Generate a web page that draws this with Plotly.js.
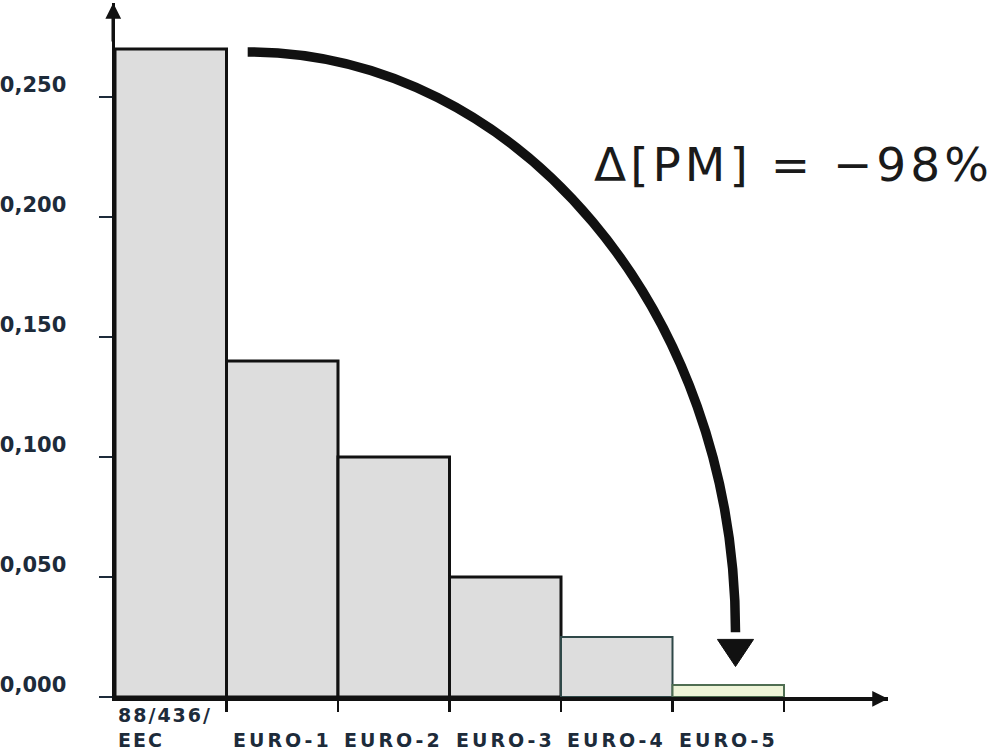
<!DOCTYPE html>
<html>
<head>
<meta charset="utf-8">
<script src="https://cdn.plot.ly/plotly-3.0.1.min.js"></script>
<style>
  html, body { margin: 0; padding: 0; background: #ffffff; }
  #chart { width: 999px; height: 753px; }
  .annotation[data-index="0"] text.annotation-text { letter-spacing: 2px; }
  .annotation[data-index="1"] text.annotation-text,
  .annotation[data-index="2"] text.annotation-text,
  .annotation[data-index="3"] text.annotation-text,
  .annotation[data-index="4"] text.annotation-text,
  .annotation[data-index="5"] text.annotation-text { letter-spacing: 3px; }
  .annotation[data-index="6"] text.annotation-text { letter-spacing: 4px; }
</style>
</head>
<body>
<div id="chart"></div>
<script>
// ---- data ----
const categories = ['88/436/<br>EEC', 'EURO-1', 'EURO-2', 'EURO-3', 'EURO-4', 'EURO-5'];
const pmValues = [0.27, 0.14, 0.10, 0.05, 0.025, 0.005];
const yTickVals = [0, 0.05, 0.10, 0.15, 0.20, 0.25];
const yTickText = ['0,000', '0,050', '0,100', '0,150', '0,200', '0,250'];
const reductionLabel = 'Δ[PM] = −98%';

// ---- styles ----
const barFill = ['#dddddd', '#dddddd', '#dddddd', '#dddddd', '#dddddd', '#eef4d8'];
const barEdge = ['#111111', '#111111', '#111111', '#111111', '#2f4848', '#4f6e52'];
const barEdgeW = [3, 3, 3, 3, 2, 2];
const labelColor = '#1d2b3a';
const axisW = 3.5;

const xIdx = categories.map((c, i) => i);

const trace = {
  type: 'bar',
  x: xIdx,
  y: pmValues,
  width: 1,
  marker: { color: barFill, line: { color: barEdge, width: barEdgeW } },
  hoverinfo: 'skip'
};

// category labels centred under each bar, bottoms aligned
const catAnnotations = categories.map((c, i) => ({
  x: i, xref: 'x', xanchor: 'center', xshift: i === 0 ? -13 : -9,
  y: 0, yref: 'paper', yanchor: 'bottom', yshift: -56,
  text: c, showarrow: false, align: 'left',
  font: { family: 'DejaVu Sans', size: 19, weight: 'bold', color: labelColor }
}));

const deltaAnnotation = {
  x: (793 - 115) / 773, xref: 'paper', xanchor: 'center',
  y: 0.7666, yref: 'paper', yanchor: 'middle',
  text: reductionLabel, showarrow: false,
  font: { family: 'DejaVu Sans', size: 47, color: '#1a1a1a' }
};

// arrowheads for the axes (aligned with Plotly's outside-offset axis lines)
const axisArrows = [
  { x: 0, xref: 'paper', y: 1, yref: 'paper', ax: 0, ay: 40, text: '', xshift: -axisW / 2,
    showarrow: true, arrowhead: 2, arrowsize: 0.9, arrowwidth: axisW, arrowcolor: '#111111' },
  { x: 1, xref: 'paper', y: 0, yref: 'paper', ax: -60, ay: 0, text: '', yshift: -axisW / 2,
    showarrow: true, arrowhead: 2, arrowsize: 0.9, arrowwidth: axisW, arrowcolor: '#111111' }
];

// curved reduction arrow (decoration): quarter ellipse from first bar top to above last bar
const k = 0.5523;
const a0 = { x: 0.69, y: pmValues[0] - 0.0012 };
const a1 = { x: 5.065, y: 0.027 };
const curvePath = `M ${a0.x},${a0.y} C ${a0.x + k * (a1.x - a0.x)},${a0.y} ${a1.x},${a1.y + k * (a0.y - a1.y)} ${a1.x},${a1.y}`;
const headHalf = 0.162, headBase = 0.0240, headTip = 0.0127;
const headPath = `M ${a1.x - headHalf},${headBase} L ${a1.x + headHalf},${headBase} L ${a1.x},${headTip} Z`;

const layout = {
  width: 999, height: 753,
  margin: { l: 115, r: 111, t: 3, b: 56, pad: 0 },
  paper_bgcolor: '#ffffff', plot_bgcolor: '#ffffff',
  showlegend: false,
  bargap: 0,
  xaxis: {
    range: [-0.5, -0.5 + 773 / 111.5],
    showgrid: false, zeroline: false,
    showline: true, linecolor: '#111111', linewidth: axisW,
    ticks: 'outside', ticklen: 11, tickwidth: 2.5, tickcolor: '#111111',
    tickvals: xIdx.map(i => i + 0.5),
    showticklabels: false, fixedrange: true
  },
  yaxis: {
    range: [0, 694 / 2400],
    showgrid: false, zeroline: false,
    showline: true, linecolor: '#111111', linewidth: axisW,
    ticks: 'outside', ticklen: 13, tickwidth: 2, tickcolor: labelColor,
    tickvals: yTickVals, ticktext: yTickText,
    ticklabelshift: -12, ticklabelstandoff: 28,
    tickfont: { family: 'DejaVu Sans', size: 21, weight: 'bold', color: labelColor },
    fixedrange: true
  },
  annotations: catAnnotations.concat([deltaAnnotation], axisArrows),
  shapes: [
    { type: 'path', xref: 'x', yref: 'y', path: curvePath, layer: 'above',
      fillcolor: 'rgba(0,0,0,0)', line: { color: '#111111', width: 9.5 } },
    { type: 'path', xref: 'x', yref: 'y', path: headPath, layer: 'above',
      fillcolor: '#111111', line: { color: '#111111', width: 1 } }
  ]
};

Plotly.newPlot('chart', [trace], layout, { staticPlot: true, displayModeBar: false });
</script>
</body>
</html>
